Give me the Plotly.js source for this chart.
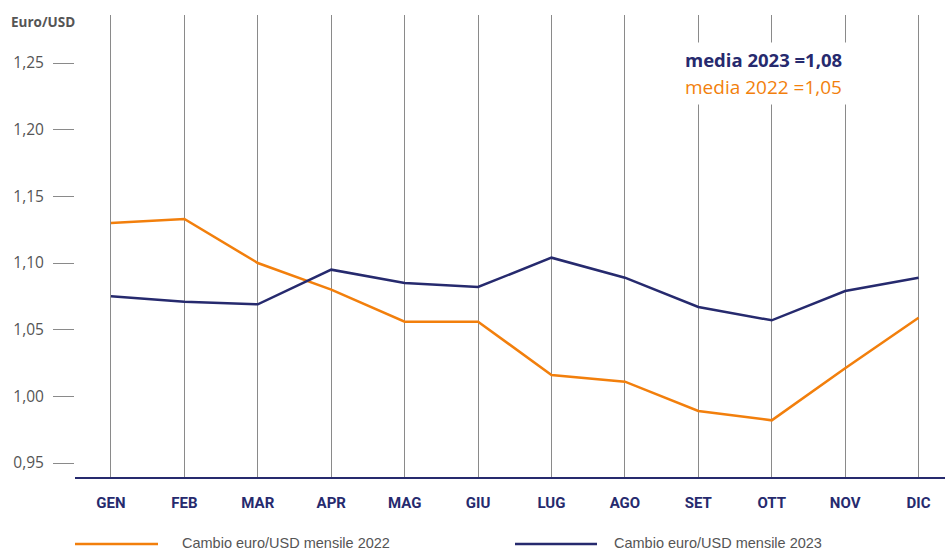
<!DOCTYPE html>
<html><head><meta charset="utf-8">
<script src="https://cdn.plot.ly/plotly-3.0.1.min.js"></script>
<style>body{margin:0;background:#fff}#chart{width:945px;height:550px}</style>
</head><body><div id="chart"></div>
<script>
const months = ['GEN','FEB','MAR','APR','MAG','GIU','LUG','AGO','SET','OTT','NOV','DIC'];
const values2022 = [1.130, 1.133, 1.100, 1.080, 1.056, 1.056, 1.016, 1.011, 0.989, 0.982, 1.021, 1.059];
const values2023 = [1.075, 1.071, 1.069, 1.095, 1.085, 1.082, 1.104, 1.089, 1.067, 1.057, 1.079, 1.089];
const yTicks = [0.95, 1.00, 1.05, 1.10, 1.15, 1.20, 1.25];
const name2022 = 'Cambio euro/USD mensile 2022';
const name2023 = 'Cambio euro/USD mensile 2023';
const avg2023 = 'media 2023 =1,08';
const avg2022 = 'media 2022 =1,05';

const ORANGE = '#F27F0C';
const NAVY = '#262A6E';
const GRAY = '#8a8a8a';

const traces = [
  {x: months, y: values2022, name: name2022, type: 'scatter', mode: 'lines',
   line: {color: ORANGE, width: 2.5}, showlegend: false, hoverinfo: 'skip'},
  {x: months, y: values2023, name: name2023, type: 'scatter', mode: 'lines',
   line: {color: NAVY, width: 2.5}, showlegend: false, hoverinfo: 'skip'}
];

const layout = {
  width: 945, height: 550,
  margin: {l: 75, r: 0, t: 15, b: 73},
  paper_bgcolor: '#fff', plot_bgcolor: '#fff',
  separators: ',.',
  font: {family: 'Open Sans, sans-serif', color: '#555'},
  xaxis: {
    type: 'category', range: [-0.49, 11.36],
    showgrid: true, gridcolor: GRAY, gridwidth: 1,
    showline: true, linecolor: NAVY, linewidth: 1.5,
    ticks: '', zeroline: false,
    tickfont: {family: 'Roboto, sans-serif', size: 15, color: NAVY, weight: 'bold'},
    ticklabelstandoff: 11, fixedrange: true
  },
  yaxis: {
    range: [0.9395, 1.286],
    tickvals: yTicks, tickformat: '.2f',
    showgrid: false, zeroline: false, showline: false,
    ticks: 'outside', ticklen: 21, tickcolor: GRAY, tickwidth: 1,
    tickfont: {family: 'Open Sans, sans-serif', size: 15.5, color: '#555'},
    ticklabelstandoff: 6, fixedrange: true
  },
  annotations: [
    {xref: 'paper', yref: 'paper', x: -66/870, y: 1 - 7/462, xanchor: 'left', yanchor: 'middle',
     text: '<b>Euro/USD</b>', showarrow: false,
     font: {family: 'Open Sans, sans-serif', size: 13.5, color: '#555'}},
    {xref: 'paper', yref: 'y', x: (763-75)/870, y: 1.253, xanchor: 'center', yanchor: 'middle',
     text: '<b>' + avg2023 + '</b>', showarrow: false, bgcolor: '#fff', borderpad: 4,
     font: {family: 'Open Sans, sans-serif', size: 18.5, color: NAVY}},
    {xref: 'paper', yref: 'y', x: (763-75)/870, y: 1.232, xanchor: 'center', yanchor: 'middle',
     text: avg2022, showarrow: false, bgcolor: '#fff', borderpad: 4,
     font: {family: 'Open Sans, sans-serif', size: 19, color: ORANGE}},
    {xref: 'paper', yref: 'paper', x: (180-75)/870, y: -(543-477)/462, xanchor: 'left', yanchor: 'middle',
     text: name2022, showarrow: false,
     font: {family: 'Liberation Sans, Arial, sans-serif', size: 14.5, color: '#555'}},
    {xref: 'paper', yref: 'paper', x: (612-75)/870, y: -(543-477)/462, xanchor: 'left', yanchor: 'middle',
     text: name2023, showarrow: false,
     font: {family: 'Liberation Sans, Arial, sans-serif', size: 14.5, color: '#555'}}
  ],
  shapes: [
    {type: 'line', xref: 'paper', yref: 'paper', x0: 0, x1: (158-75)/870,
     y0: -(544-477)/462, y1: -(544-477)/462, line: {color: ORANGE, width: 2.5}},
    {type: 'line', xref: 'paper', yref: 'paper', x0: (515-75)/870, x1: (597-75)/870,
     y0: -(544-477)/462, y1: -(544-477)/462, line: {color: NAVY, width: 2.5}}
  ]
};

Plotly.newPlot('chart', traces, layout, {staticPlot: true, displayModeBar: false});
</script>
</body></html>
